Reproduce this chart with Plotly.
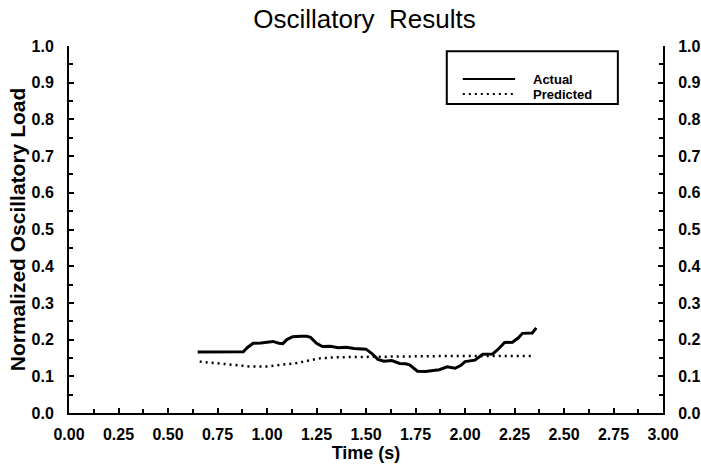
import plotly.graph_objects as go

# Measured oscillatory load (normalized) versus time
actual_t = [0.65, 0.70, 0.75, 0.80, 0.85, 0.88, 0.90, 0.93, 0.97, 1.00, 1.03, 1.06,
            1.08, 1.10, 1.13, 1.17, 1.20, 1.22, 1.25, 1.28, 1.32, 1.36, 1.40, 1.44,
            1.48, 1.50, 1.53, 1.56, 1.59, 1.63, 1.67, 1.70, 1.72, 1.74, 1.76, 1.80,
            1.84, 1.87, 1.91, 1.95, 1.98, 2.00, 2.05, 2.09, 2.14, 2.17, 2.20, 2.24,
            2.27, 2.29, 2.34, 2.36]
actual_load = [0.166, 0.166, 0.166, 0.166, 0.166, 0.167, 0.178, 0.190, 0.191, 0.192, 0.195, 0.190,
               0.189, 0.200, 0.208, 0.209, 0.209, 0.206, 0.190, 0.181, 0.182, 0.178, 0.179, 0.176,
               0.176, 0.174, 0.162, 0.146, 0.141, 0.143, 0.135, 0.134, 0.131, 0.122, 0.114, 0.113,
               0.115, 0.118, 0.126, 0.122, 0.130, 0.140, 0.144, 0.160, 0.161, 0.175, 0.192, 0.193,
               0.205, 0.217, 0.218, 0.232]

# Model prediction
predicted_t = [0.66, 0.75, 0.85, 0.91, 1.00, 1.08, 1.15, 1.22, 1.27, 1.35, 1.45, 1.57,
               1.70, 1.85, 2.00, 2.15, 2.34]
predicted_load = [0.140, 0.135, 0.130, 0.127, 0.127, 0.131, 0.136, 0.144, 0.149, 0.152, 0.153, 0.154,
                  0.155, 0.155, 0.155, 0.155, 0.155]

series_names = ["Actual", "Predicted"]

x_ticks = [0.0, 0.25, 0.5, 0.75, 1.0, 1.25, 1.5, 1.75, 2.0, 2.25, 2.5, 2.75, 3.0]
x_tick_text = ["0.00", "0.25", "0.50", "0.75", "1.00", "1.25", "1.50", "1.75",
               "2.00", "2.25", "2.50", "2.75", "3.00"]
y_ticks = [0.0, 0.1, 0.2, 0.3, 0.4, 0.5, 0.6, 0.7, 0.8, 0.9, 1.0]
y_tick_text = ["0.0", "0.1", "0.2", "0.3", "0.4", "0.5", "0.6", "0.7", "0.8", "0.9", "1.0"]

FONT = "Liberation Sans, Arial, Helvetica, sans-serif"
SOLID = dict(color="black", width=3)
DOTTED = dict(color="black", width=2.5, dash="2px,4px")

fig = go.Figure()
fig.add_trace(go.Scatter(x=actual_t, y=actual_load, mode="lines", name=series_names[0],
                         line=SOLID))
fig.add_trace(go.Scatter(x=predicted_t, y=predicted_load, mode="lines", name=series_names[1],
                         line=DOTTED))
# Right-hand axis carries the same scale
fig.add_trace(go.Scatter(x=predicted_t, y=predicted_load, mode="lines", yaxis="y2",
                         showlegend=False, hoverinfo="skip",
                         line=dict(color="rgba(0,0,0,0)", width=0)))

axis_common = dict(
    showgrid=False, zeroline=False, showline=True, linecolor="black", linewidth=2,
    ticks="inside", ticklen=5, tickwidth=1.5, tickcolor="black", automargin=False,
    tickfont=dict(family=FONT, size=16, color="black", weight="bold"),
)
minor_common = dict(ticks="inside", tick0=0, ticklen=4, tickwidth=1.5, tickcolor="black")

# Boxed key in the upper right of the plotting area
key_box = dict(x0=0.636, x1=0.924, y0=0.842, y1=0.986)
key_rows = [0.910, 0.869]
key_line_x = (0.663, 0.751)
key_text_x = 0.777

shapes = [dict(type="rect", xref="paper", yref="paper", line=dict(color="black", width=2),
               fillcolor="white", layer="above", **key_box)]
annotations = []
for name, row, style in zip(series_names, key_rows, [SOLID, DOTTED]):
    shapes.append(dict(type="line", xref="paper", yref="paper", x0=key_line_x[0],
                       x1=key_line_x[1], y0=row, y1=row, layer="above",
                       line=dict(color=style["color"], width=2,
                                 dash=style.get("dash", "solid"))))
    annotations.append(dict(text=name, xref="paper", yref="paper", x=key_text_x, y=row,
                            xanchor="left", yanchor="middle", showarrow=False,
                            font=dict(family=FONT, size=13, color="black", weight="bold")))

fig.update_layout(
    width=701, height=465,
    margin=dict(l=69, r=38, t=46, b=52, autoexpand=False),
    paper_bgcolor="white", plot_bgcolor="white",
    showlegend=False,
    shapes=shapes,
    annotations=annotations,
    title=dict(text="Oscillatory&nbsp;&nbsp;Results", x=0.52, xanchor="center",
               y=0.96, yanchor="middle",
               font=dict(family=FONT, size=26, color="black")),
    xaxis=dict(range=[0, 3], tickvals=x_ticks, ticktext=x_tick_text,
               minor=dict(dtick=0.125, **minor_common),
               ticklabelstandoff=6,
               title=dict(text="Time (s)", standoff=0,
                          font=dict(family=FONT, size=18, color="black", weight="bold")),
               **axis_common),
    yaxis=dict(range=[0, 1], tickvals=y_ticks, ticktext=y_tick_text,
               minor=dict(dtick=0.05, **minor_common),
               ticklabelstandoff=10,
               title=dict(text="Normalized Oscillatory Load", standoff=0,
                          font=dict(family=FONT, size=21, color="black", weight="bold")),
               **axis_common),
    yaxis2=dict(range=[0, 1], overlaying="y", side="right", tickvals=y_ticks,
                ticktext=y_tick_text,
                minor=dict(dtick=0.05, **minor_common),
                ticklabelstandoff=10,
                **axis_common),
)

fig.write_html("out.html")
